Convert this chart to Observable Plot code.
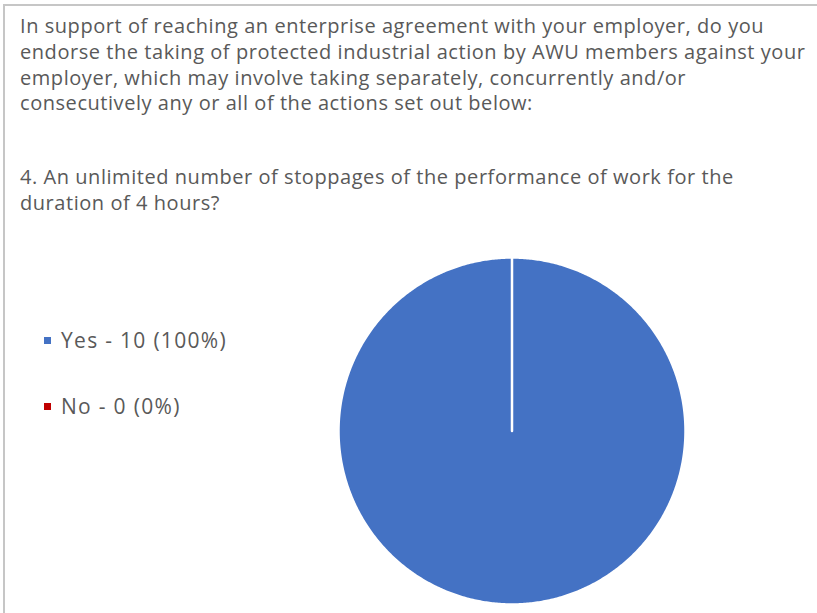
<!DOCTYPE html>
<html>
<head>
<meta charset="utf-8">
<script src="https://cdn.jsdelivr.net/npm/d3@7"></script>
<script src="https://cdn.jsdelivr.net/npm/@observablehq/plot@0.6"></script>
<style>
  html, body { margin: 0; padding: 0; background: #fff; }
  #wrap { position: relative; width: 817px; height: 613px; overflow: hidden; font-family: "Open Sans", sans-serif; color: #595959; }
  #frame { position: absolute; left: 3px; top: 4px; width: 812px; height: 640px; border-left: 2px solid #c6c6c6; border-top: 2px solid #c6c6c6; }
  #title { position: absolute; left: 20px; top: 13px; font-size: 20px; letter-spacing: 0.55px; line-height: 25.8px; white-space: nowrap; }
  #title .q { margin-top: 48px; line-height: 25.5px; }
  #legend { position: absolute; left: 44px; top: 324px; font-size: 21px; letter-spacing: 1.3px; }
  #legend .item { display: flex; align-items: center; height: 32px; margin-bottom: 34px; }
  #legend .sw { width: 7px; height: 7px; margin-right: 10px; }
  #chart { position: absolute; left: 0; top: 230px; }
</style>
</head>
<body>
<div id="wrap">
  <div id="frame"></div>
  <div id="title"></div>
  <div id="legend"></div>
  <div id="chart"></div>
</div>
<script>
// Data
const introLines = [
  "In support of reaching an enterprise agreement with your employer, do you",
  "endorse the taking of protected industrial action by AWU members against your",
  "employer, which may involve taking separately, concurrently and/or",
  "consecutively any or all of the actions set out below:"
];
const questionLines = [
  "4. An unlimited number of stoppages of the performance of work for the",
  "duration of 4 hours?"
];
const categories = ["Yes", "No"];
const counts = [10, 0];
const percents = ["100%", "0%"];
const colors = ["#4472C4", "#C00000"];

// Title
const title = d3.select("#title");
const p1 = title.append("div");
introLines.forEach(l => p1.append("div").text(l));
const p2 = title.append("div").attr("class", "q");
questionLines.forEach(l => p2.append("div").text(l));

// Legend
const legend = d3.select("#legend");
categories.forEach((c, i) => {
  const it = legend.append("div").attr("class", "item");
  it.append("div").attr("class", "sw").style("background", colors[i]);
  it.append("span").text(`${c} - ${counts[i]} (${percents[i]})`);
});

// Pie geometry from data via d3.pie
const table = categories.map((c, i) => ({label: c, value: counts[i]}));
const arcs = d3.pie().value(d => d.value).sort(null)(table);
const pts = [];
arcs.forEach(a => {
  if (a.endAngle - a.startAngle <= 0) return;
  const lab = a.data.label;
  pts.push({label: lab, x: 0, y: 0});
  const n = Math.max(2, Math.ceil((a.endAngle - a.startAngle) / (Math.PI / 360)));
  for (let k = 0; k <= n; k++) {
    const t = a.startAngle + (a.endAngle - a.startAngle) * k / n;
    pts.push({label: lab, x: Math.sin(t), y: Math.cos(t)});
  }
});

const chart = Plot.plot({
  width: 817,
  height: 383,
  marginLeft: 338,
  marginRight: 132,
  marginTop: 27,
  marginBottom: 9,
  x: {domain: [-1, 1], axis: null},
  y: {domain: [-1, 1], axis: null},
  color: {domain: categories, range: colors},
  marks: [
    Plot.line(pts, {x: "x", y: "y", z: "label", fill: "label", stroke: "white", strokeWidth: 2.5, curve: "linear-closed"})
  ]
});
document.getElementById("chart").appendChild(chart);
</script>
</body>
</html>
